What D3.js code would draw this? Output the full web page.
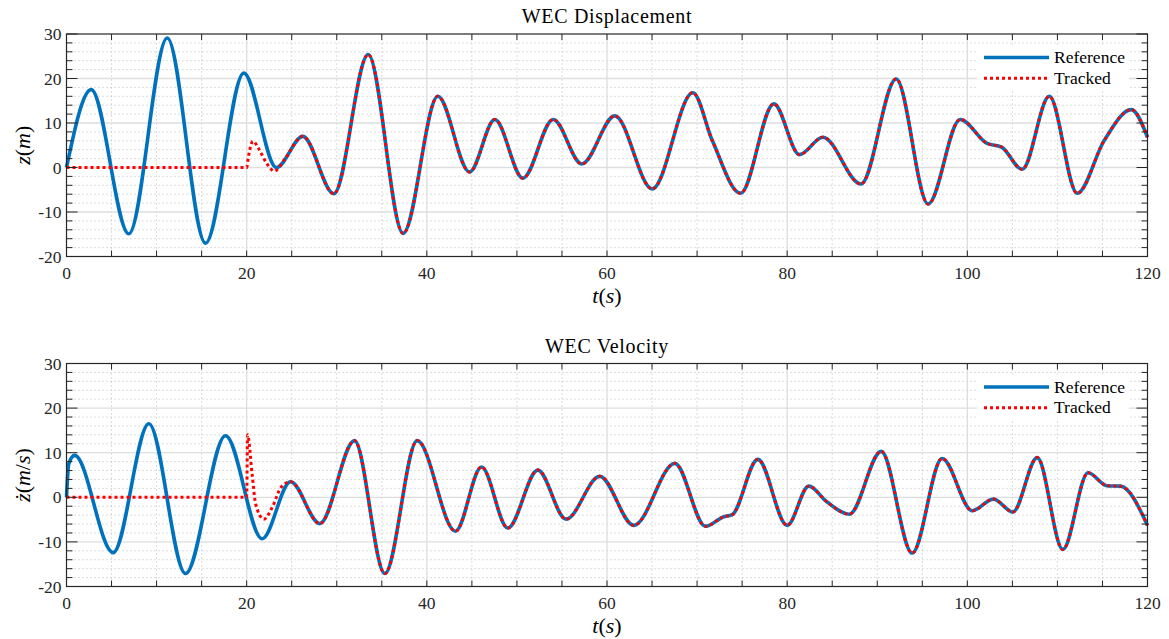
<!DOCTYPE html>
<html><head><meta charset="utf-8">
<script src="https://cdn.jsdelivr.net/npm/d3@7"></script>
<style>body{margin:0;background:#fff}svg{display:block}</style>
</head><body>
<svg id="chart" width="1169" height="639"></svg>
<script>
// ---- data ----
const xTicks = [0, 20, 40, 60, 80, 100, 120];
const yTicks = [-20, -10, 0, 10, 20, 30];
const legendLabels = ["Reference", "Tracked"];

// Displacement reference (t, z)
const dispRefT = [0,2.74,6.92,11.18,15.43,19.68,23.3,26.23,29.68,33.49,37.37,41.22,44.74,47.55,50.66,54.03,57.2,60.87,65.02,69.53,71.7,74.82,78.52,81.37,83.96,88.2,92.1,95.65,99.2,102.2,103.8,106.1,109.1,112.2,115.2,118.2,120];
const dispRefV = [0,17.5,-14.9,29.1,-17.0,21.2,0,7.0,-5.9,25.4,-14.8,16.0,-1.0,10.8,-2.4,10.8,0.8,11.6,-4.8,16.8,6.0,-5.8,14.3,2.9,6.8,-3.7,19.9,-8.2,10.8,5.4,4.6,-0.4,16.0,-5.8,6.1,13.0,6.8];
// Displacement tracked transient (before it joins reference)
const dispTrkT = [0,20,20.2,20.7,21.4,22.2,23.1,24.2];
const dispTrkV = [0,0,2.5,5.9,4.0,1.0,-0.8,1.8];
const dispJoin = 26;

// Velocity reference (t, zdot)
const velRefT = [0,0.25,0.9,5.18,9.14,13.21,17.65,21.72,24.87,28.12,31.97,35.34,38.93,43.18,46.07,48.99,52.32,55.45,59.2,62.98,67.53,70.94,72.9,73.9,76.74,80.0,82.4,84.4,86.9,90.44,93.88,97.2,100.54,102.9,105.05,107.76,110.6,113.4,115.5,117.0,120];
const velRefV = [0,7.5,9.4,-12.4,16.5,-17.1,13.8,-9.3,3.5,-5.9,12.7,-17.1,12.7,-7.6,6.8,-6.9,6.1,-4.9,4.7,-6.3,7.6,-6.5,-4.4,-3.9,8.5,-6.3,2.5,-1.0,-3.8,10.3,-12.5,8.7,-3.0,-0.4,-3.3,8.9,-11.7,5.5,2.6,2.5,-6.3];
// Velocity tracked transient
const velTrkT = [0,20,20.1,20.6,21.0,21.9,22.9,23.8];
const velTrkV = [0,0,14,5.3,-1.5,-4.9,-2.0,2.2];
const velJoin = 24.5;

// ---- drawing ----
const svg = d3.select("#chart");
const FONT = "'Liberation Serif','DejaVu Serif',serif";
const AX = "#262626";
const BLUE = "#0072BD", RED = "#FF0000";

function zip(T, V) { return T.map((t, i) => ({t, v: V[i]})); }

function panel(cfg) {
  const x = d3.scaleLinear().domain([0, 120]).range([66.5, 1147.5]);
  const y = d3.scaleLinear().domain([-20, 30]).range([cfg.bottom, cfg.top]);
  const g = svg.append("g");

  // minor grid
  const xMinor = d3.range(0, 121, 5).filter(d => d % 20 !== 0);
  const yMinor = d3.range(-20, 31, 2).filter(d => d % 10 !== 0);
  g.selectAll(".xmg").data(xMinor).enter().append("line")
    .attr("x1", d => x(d)).attr("x2", d => x(d)).attr("y1", y(-20)).attr("y2", y(30))
    .attr("stroke", "#b8b8b8").attr("stroke-width", 1).attr("stroke-dasharray", "1,3");
  g.selectAll(".ymg").data(yMinor).enter().append("line")
    .attr("y1", d => y(d)).attr("y2", d => y(d)).attr("x1", x(0)).attr("x2", x(120))
    .attr("stroke", "#b8b8b8").attr("stroke-width", 1).attr("stroke-dasharray", "1,3");
  // major grid
  g.selectAll(".xg").data(xTicks.slice(1, -1)).enter().append("line")
    .attr("x1", d => x(d)).attr("x2", d => x(d)).attr("y1", y(-20)).attr("y2", y(30))
    .attr("stroke", "#dedede").attr("stroke-width", 1.3);
  g.selectAll(".yg").data(yTicks.slice(1, -1)).enter().append("line")
    .attr("y1", d => y(d)).attr("y2", d => y(d)).attr("x1", x(0)).attr("x2", x(120))
    .attr("stroke", "#dedede").attr("stroke-width", 1.3);

  // lines
  const line = d3.line().x(d => x(d.t)).y(d => y(d.v)).curve(d3.curveMonotoneX);
  const ref = zip(cfg.refT, cfg.refV);
  const trk = zip(cfg.trkT, cfg.trkV).concat(ref.filter(d => d.t >= cfg.join));
  g.append("path").datum(ref).attr("d", line).attr("fill", "none")
    .attr("stroke", BLUE).attr("stroke-width", 3.6).attr("stroke-linejoin", "round");
  g.append("path").datum(trk).attr("d", line).attr("fill", "none")
    .attr("stroke", RED).attr("stroke-width", 3).attr("stroke-dasharray", "3,3");

  // axes box
  g.append("rect").attr("x", x(0)).attr("y", y(30)).attr("width", x(120) - x(0)).attr("height", y(-20) - y(30))
    .attr("fill", "none").attr("stroke", AX).attr("stroke-width", 1.2);

  // ticks (inward, all sides)
  const xTk = d3.range(0, 121, 5);
  const yTkMinor = d3.range(-20, 31, 2);
  xTk.forEach(d => {
    g.append("line").attr("x1", x(d)).attr("x2", x(d)).attr("y1", y(-20)).attr("y2", y(-20) - 6).attr("stroke", AX);
    g.append("line").attr("x1", x(d)).attr("x2", x(d)).attr("y1", y(30)).attr("y2", y(30) + 6).attr("stroke", AX);
  });
  yTkMinor.forEach(d => {
    const len = d % 10 === 0 ? 11 : 6;
    g.append("line").attr("y1", y(d)).attr("y2", y(d)).attr("x1", x(0)).attr("x2", x(0) + len).attr("stroke", AX);
    g.append("line").attr("y1", y(d)).attr("y2", y(d)).attr("x1", x(120)).attr("x2", x(120) - len).attr("stroke", AX);
  });

  // tick labels
  g.selectAll(".xl").data(xTicks).enter().append("text")
    .attr("x", d => x(d)).attr("y", y(-20) + 22).attr("text-anchor", "middle")
    .attr("font-family", FONT).attr("font-size", 17.5).attr("fill", AX).text(d => d);
  g.selectAll(".yl").data(yTicks).enter().append("text")
    .attr("x", x(0) - 5).attr("y", d => y(d) + 6).attr("text-anchor", "end")
    .attr("font-family", FONT).attr("font-size", 17.5).attr("fill", AX).text(d => d);

  // title
  g.append("text").attr("x", (x(0) + x(120)) / 2).attr("y", y(30) - 11).attr("text-anchor", "middle")
    .attr("font-family", FONT).attr("font-size", 20).attr("letter-spacing", 0.7).attr("fill", "#000").text(cfg.title);

  // x label t(s)
  const xl = g.append("text").attr("x", (x(0) + x(120)) / 2).attr("y", y(-20) + 46).attr("text-anchor", "middle")
    .attr("font-family", FONT).attr("font-size", 22).attr("fill", "#000");
  xl.append("tspan").attr("font-style", "italic").text("t");
  xl.append("tspan").text("(");
  xl.append("tspan").attr("font-style", "italic").text("s");
  xl.append("tspan").text(")");

  // y label
  const cy = (y(30) + y(-20)) / 2;
  const yl = g.append("text").attr("transform", `translate(30,${cy}) rotate(-90)`).attr("text-anchor", "middle")
    .attr("font-family", FONT).attr("font-size", 22).attr("fill", "#000");
  cfg.ylab.forEach(p => yl.append("tspan").attr("font-style", p[1] ? "italic" : "normal").text(p[0]));

  // legend
  const lx = 977, ly = y(30) + 11;
  g.append("rect").attr("x", lx).attr("y", ly).attr("width", 152).attr("height", 44).attr("fill", "#fff");
  const rows = [{c: BLUE, dash: null, w: 3.6}, {c: RED, dash: "3,3", w: 3}];
  rows.forEach((r, i) => {
    const yy = ly + 12.5 + i * 20.7;
    const l = g.append("line").attr("x1", lx + 7).attr("x2", lx + 72).attr("y1", yy).attr("y2", yy)
      .attr("stroke", r.c).attr("stroke-width", r.w);
    if (r.dash) l.attr("stroke-dasharray", r.dash);
    g.append("text").attr("x", lx + 77).attr("y", yy + 5.5).attr("font-family", FONT).attr("font-size", 17.5)
      .attr("fill", "#000").text(legendLabels[i]);
  });
}

panel({top: 34, bottom: 256.5, title: "WEC Displacement", refT: dispRefT, refV: dispRefV,
  trkT: dispTrkT, trkV: dispTrkV, join: dispJoin, ylab: [["z", 1], ["(", 0], ["m", 1], [")", 0]]});
panel({top: 363.5, bottom: 586.5, title: "WEC Velocity", refT: velRefT, refV: velRefV,
  trkT: velTrkT, trkV: velTrkV, join: velJoin, ylab: [["ż", 1], ["(", 0], ["m", 1], ["/", 0], ["s", 1], [")", 0]]});
</script>
</body></html>
